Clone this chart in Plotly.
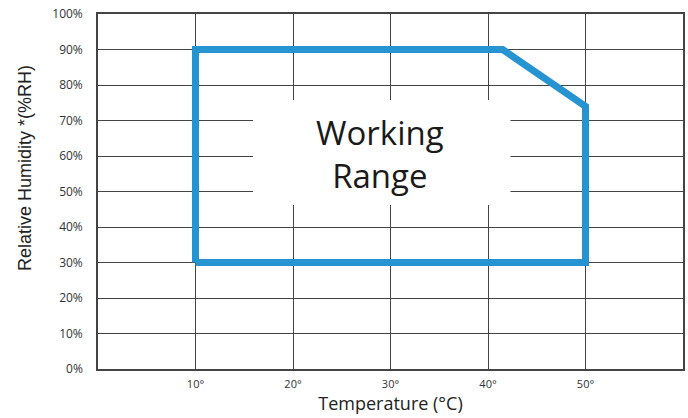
import plotly.graph_objects as go

# Working range outline (temperature °C, relative humidity %)
range_temp = [10, 10, 41.5, 50, 50, 10]
range_rh = [30, 90, 90, 74, 30, 30]

x_ticks = [10, 20, 30, 40, 50]
x_tick_labels = ["10°", "20°", "30°", "40°", "50°"]
y_ticks = [0, 10, 20, 30, 40, 50, 60, 70, 80, 90, 100]
y_tick_labels = ["0%", "10%", "20%", "30%", "40%", "50%", "60%", "70%", "80%", "90%", "100%"]

FONT = "Open Sans"
GRID = "#444444"

fig = go.Figure()
fig.add_trace(go.Scatter(
    x=range_temp, y=range_rh, mode="lines",
    line=dict(color="#2594d1", width=7),
    hoverinfo="skip", showlegend=False,
))

# white box behind the label that hides the gridlines
fig.add_shape(type="rect", xref="x", yref="y", x0=15.9, x1=42.3, y0=46.2, y1=75.8,
              fillcolor="white", line=dict(width=0), layer="between")

fig.add_annotation(x=28.9, y=60.5, xref="x", yref="y", text="Working<br>Range",
                   showarrow=False, font=dict(family=FONT, size=33, color="#1a1a1a"))

# y-axis title (placed a little above centre, as in the reference)
fig.add_annotation(x=0, y=0.566, xref="paper", yref="paper", xshift=-73,
                   text="Relative Humidity *(%RH)", textangle=-90, showarrow=False,
                   xanchor="center", yanchor="middle",
                   font=dict(family="Liberation Sans", size=18, color="#222"))

fig.update_xaxes(range=[0, 60], tickvals=x_ticks, ticktext=x_tick_labels,
                 showgrid=True, gridcolor=GRID, gridwidth=1.4,
                 showline=True, linecolor=GRID, linewidth=1.6, mirror=True,
                 ticks="", ticklabelstandoff=4, zeroline=False,
                 tickfont=dict(family=FONT, size=11, color="#333"),
                 title=dict(text="Temperature (°C)", font=dict(family=FONT, size=18, color="#222"), standoff=5))
fig.update_yaxes(range=[0, 100], tickvals=y_ticks, ticktext=y_tick_labels,
                 showgrid=True, gridcolor=GRID, gridwidth=1.4,
                 showline=True, linecolor=GRID, linewidth=1.6, mirror=True,
                 ticks="", zeroline=False, ticklabelstandoff=11, ticklabeloverflow="allow",
                 tickfont=dict(family=FONT, size=12, color="#333"))

fig.update_layout(width=688, height=418, margin=dict(l=98, r=5, t=14, b=49, autoexpand=False),
                  plot_bgcolor="white", paper_bgcolor="white")
# remove the page's default body margin so the figure fills the window exactly
fig.write_html("out.html", config={"displayModeBar": False},
               post_script="document.body.style.margin='0';")
